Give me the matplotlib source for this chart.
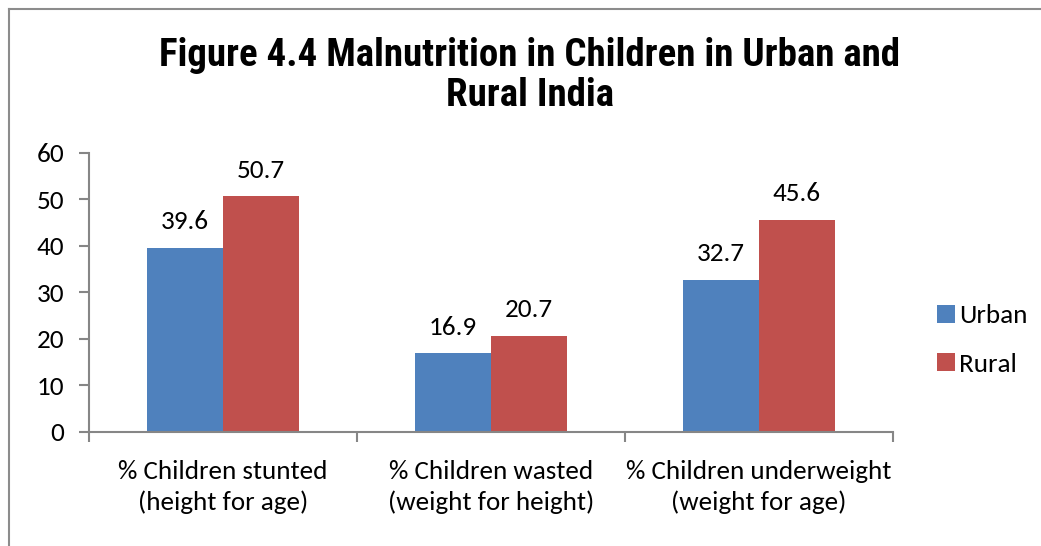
import matplotlib
matplotlib.use('Agg')
import matplotlib.pyplot as plt
import numpy as np
from matplotlib.lines import Line2D

body_font = ['Carlito', 'PT Sans', 'DejaVu Sans']
title_font = ['Roboto Condensed', 'Liberation Sans Narrow', 'DejaVu Sans']
plt.rcParams['font.family'] = body_font

# データ
categories = ['% Children stunted\n(height for age)',
              '% Children wasted\n(weight for height)',
              '% Children underweight\n(weight for age)']
urban = [39.6, 16.9, 32.7]
rural = [50.7, 20.7, 45.6]
series_names = ['Urban', 'Rural']
y_ticks = [0, 10, 20, 30, 40, 50, 60]
title = 'Figure 4.4 Malnutrition in Children in Urban and\nRural India'

blue = '#4F81BD'
red = '#C0504D'
axis_gray = '#868686'
fs = 19.5

fig = plt.figure(figsize=(10.41, 5.46), dpi=100)
ax = fig.add_axes([0.0855, 0.2088, 0.772, 0.511])

x = np.arange(len(categories))
w = 0.284
ax.bar(x - w / 2, urban, w, color=blue, label=series_names[0])
ax.bar(x + w / 2, rural, w, color=red, label=series_names[1])

# データラベル
for xi, v in zip(x - w / 2, urban):
    ax.text(xi, v + 5.6, f'{v}', ha='center', va='center', fontsize=fs)
for xi, v in zip(x + w / 2, rural):
    ax.text(xi, v + 5.6, f'{v}', ha='center', va='center', fontsize=fs)

ax.set_xlim(-0.5, len(categories) - 0.5)
ax.set_ylim(0, 60)
ax.set_yticks(y_ticks)
ax.set_yticklabels([str(t) for t in y_ticks], fontsize=fs)

ax.set_xticks(x)
ax.set_xticklabels(categories, fontsize=fs, linespacing=1.38)
ax.set_xticks(np.arange(len(categories) + 1) - 0.5, minor=True)
ax.tick_params(axis='x', which='major', length=0, pad=20)
ax.tick_params(axis='x', which='minor', length=7, color=axis_gray, width=1.5, direction='out')
ax.tick_params(axis='y', length=7, color=axis_gray, width=1.5, pad=11)

for s in ['top', 'right']:
    ax.spines[s].set_visible(False)
for s in ['left', 'bottom']:
    ax.spines[s].set_color(axis_gray)
    ax.spines[s].set_linewidth(1.5)

fig.text(0.509, 0.862, title, ha='center', va='center', fontsize=28,
         fontweight='bold', linespacing=1.1, family=title_font)

leg = ax.legend(loc='center left', bbox_to_anchor=(1.025, 0.33), frameon=False,
                fontsize=fs, handlelength=0.65, handleheight=0.65,
                handletextpad=0.15, labelspacing=0.95)

# 外枠
fig.add_artist(Line2D([8.5 / 1041, 8.5 / 1041], [0, 1 - 8.5 / 546],
                      transform=fig.transFigure, color='#8c8c8c', lw=1.5))
fig.add_artist(Line2D([8.5 / 1041, 1], [1 - 8.5 / 546, 1 - 8.5 / 546],
                      transform=fig.transFigure, color='#8c8c8c', lw=1.5))

plt.savefig('out.png', dpi=100)
